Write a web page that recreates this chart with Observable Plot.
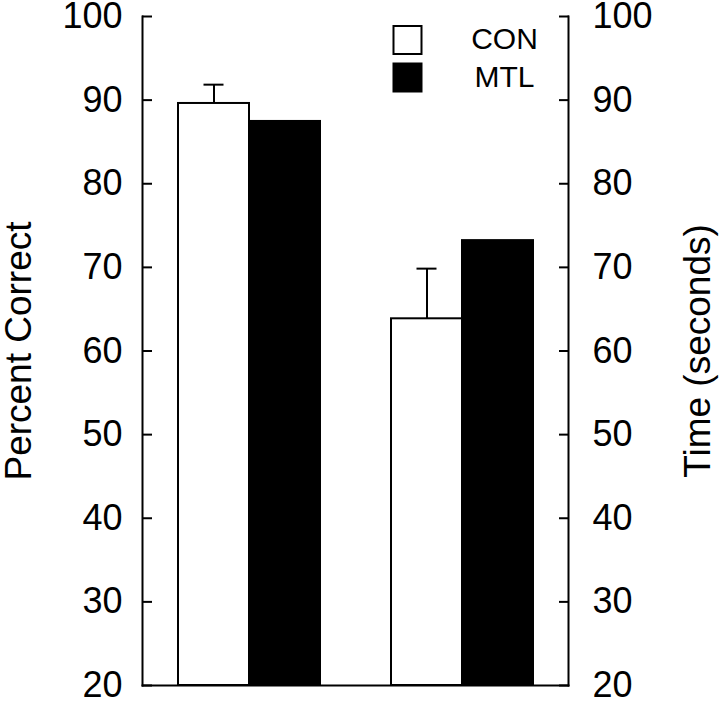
<!DOCTYPE html>
<html>
<head>
<meta charset="utf-8">
<script src="https://cdn.jsdelivr.net/npm/d3@7"></script>
<script src="https://cdn.jsdelivr.net/npm/@observablehq/plot@0.6"></script>
<style>
  html, body { margin: 0; padding: 0; background: #fff; }
  svg { display: block; }
</style>
</head>
<body>
<div id="chart"></div>
<script>
// ---- data ----
const groups = ["Accuracy", "Time"];
const conMeans = [89.6, 63.85];
const conErrors = [2.25, 6.0];
const mtlMeans = [87.45, 73.2];
const legendLabels = ["CON", "MTL"];
const legendFills = ["white", "black"];
const yDomain = [20, 100];
const yTicks = [20, 30, 40, 50, 60, 70, 80, 90, 100];
const leftTitle = "Percent Correct";
const rightTitle = "Time (seconds)";

// ---- table built from arrays ----
const con = groups.map((g, i) => ({group: g, mean: conMeans[i], hi: conMeans[i] + conErrors[i]}));
const mtl = groups.map((g, i) => ({group: g, mean: mtlMeans[i]}));

const font = "'Liberation Sans', Arial, Helvetica, sans-serif";
const bandwidth = 142;
const half = bandwidth / 2;
const capHalf = 10;

const legendMarks = legendLabels.flatMap((label, i) => [
  Plot.dot([label], {frameAnchor: "top-left", dx: 265, dy: 23.5 + i * 37.5, symbol: "square", r: 15.8,
    fill: legendFills[i], stroke: "black", strokeWidth: 2}),
  Plot.text([label], {text: d => d, frameAnchor: "top-left", dx: 362, dy: 23 + i * 38, fontSize: 30,
    textAnchor: "middle", lineAnchor: "middle", fill: "black"})
]);

const chart = Plot.plot({
  width: 719,
  height: 702,
  marginTop: 16,
  marginBottom: 17,
  marginLeft: 142,
  marginRight: 151,
  style: {fontFamily: font, background: "white", color: "black", overflow: "visible"},
  x: {type: "band", domain: groups, paddingInner: 1/3, paddingOuter: 1/6, axis: null},
  y: {domain: yDomain, axis: null},
  marks: [
    Plot.barY(con, {x: "group", y1: yDomain[0], y2: "mean", insetRight: half, fill: "white", stroke: "black", strokeWidth: 2}),
    Plot.barY(mtl, {x: "group", y1: yDomain[0], y2: "mean", insetLeft: half, fill: "black", stroke: "black", strokeWidth: 2}),
    Plot.ruleX(con, {x: "group", y1: "mean", y2: "hi", dx: -half / 2, stroke: "black", strokeWidth: 2}),
    Plot.tickY(con, {x: "group", y: "hi", insetLeft: half / 2 - capHalf, insetRight: half + half / 2 - capHalf, stroke: "black", strokeWidth: 2}),
    Plot.frame({anchor: "left", strokeWidth: 2}),
    Plot.frame({anchor: "right", strokeWidth: 2}),
    Plot.frame({anchor: "bottom", strokeWidth: 2}),
    Plot.axisY({anchor: "left", ticks: yTicks, tickSize: -10, tickPadding: 30, strokeWidth: 2, fontSize: 36, label: null}),
    Plot.axisY({anchor: "right", ticks: yTicks, tickSize: -10, tickPadding: 34, strokeWidth: 2, fontSize: 36, label: null}),
    Plot.text([leftTitle], {text: d => d, frameAnchor: "left", dx: -123, rotate: -90, fontSize: 37,
      textAnchor: "middle", lineAnchor: "middle", fill: "black"}),
    Plot.text([rightTitle], {text: d => d, frameAnchor: "right", dx: 130, rotate: -90, fontSize: 37,
      textAnchor: "middle", lineAnchor: "middle", fill: "black"}),
    ...legendMarks
  ]
});
document.getElementById("chart").appendChild(chart);
</script>
</body>
</html>
